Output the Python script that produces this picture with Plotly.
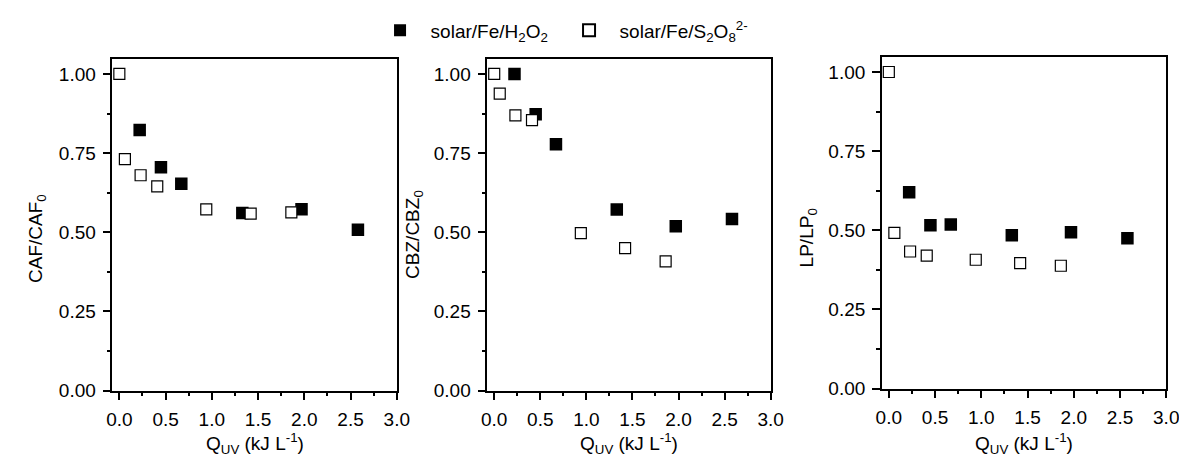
import plotly.graph_objects as go

W, H = 1187, 456

# ---- data ----
x_h2o2 = [0.22, 0.45, 0.67, 1.33, 1.97, 2.58]
x_s2o8 = [0.0, 0.06, 0.23, 0.41, 0.94, 1.42, 1.86]

caf_h2o2 = [0.823, 0.705, 0.653, 0.561, 0.573, 0.508]
caf_s2o8 = [1.00, 0.731, 0.680, 0.645, 0.572, 0.559, 0.563]

cbz_h2o2 = [1.00, 0.873, 0.778, 0.572, 0.519, 0.542]
cbz_s2o8 = [1.00, 0.938, 0.869, 0.854, 0.497, 0.450, 0.408]

lp_h2o2 = [0.620, 0.516, 0.518, 0.484, 0.494, 0.475]
lp_s2o8 = [1.00, 0.492, 0.433, 0.420, 0.407, 0.396, 0.388]

y_titles = ["CAF/CAF<sub>0</sub>", "CBZ/CBZ<sub>0</sub>", "LP/LP<sub>0</sub>"]
x_title = "Q<sub>UV</sub> (kJ L<sup>-1</sup>)"
name_h2o2 = "\u00a0\u00a0solar/Fe/H<sub>2</sub>O<sub>2</sub>"
name_s2o8 = "\u00a0\u00a0solar/Fe/S<sub>2</sub>O<sub>8</sub><sup>2-</sup>"

x_ticks = [0.0, 0.5, 1.0, 1.5, 2.0, 2.5, 3.0]
y_ticks = [0.00, 0.25, 0.50, 0.75, 1.00]

panels = [(caf_h2o2, caf_s2o8), (cbz_h2o2, cbz_s2o8), (lp_h2o2, lp_s2o8)]

# pixel layout of each panel: left, right, top, bottom
boxes = [(100, 389, 52, 392), (481, 769, 52, 392), (882, 1171, 50, 390)]
ytitle_pos = [(24, 236), (407, 232), (807, 236)]

FONT = "Arial, Liberation Sans, sans-serif"
fig = go.Figure()

for i, (yh, ys) in enumerate(panels):
    n = "" if i == 0 else str(i + 1)
    fig.add_trace(go.Scatter(
        x=x_h2o2, y=yh, mode="markers", name=name_h2o2,
        marker=dict(symbol="square", size=12.5, color="black", line=dict(width=0)),
        xaxis="x" + n, yaxis="y" + n, showlegend=(i == 0), legendgroup="a"))
    fig.add_trace(go.Scatter(
        x=x_s2o8, y=ys, mode="markers", name=name_s2o8,
        marker=dict(symbol="square", size=11, color="white", line=dict(width=1.2, color="black")),
        xaxis="x" + n, yaxis="y" + n, showlegend=(i == 0), legendgroup="b"))

axis_common = dict(
    showline=True, linecolor="black", linewidth=1.5, mirror=True,
    showgrid=False, zeroline=False, ticks="outside", ticklen=8, tickwidth=1.5,
    tickcolor="black", ticklabelstandoff=3,
    tickfont=dict(family=FONT, size=19, color="black"),
)

annotations = []
for i, (l, r, t, b) in enumerate(boxes):
    n = "" if i == 0 else str(i + 1)
    fig.layout["xaxis" + n] = dict(
        axis_common, domain=[l / W, r / W], range=[-0.075, 3.0],
        tickvals=x_ticks, ticktext=["%.1f" % v for v in x_ticks],
        minor=dict(ticks="outside", ticklen=4, tickwidth=1.5, dtick=0.25, tick0=0, tickcolor="black"),
        anchor="y" + n)
    fig.layout["yaxis" + n] = dict(
        axis_common, domain=[(H - b) / H, (H - t) / H], range=[0, 1.048],
        tickvals=y_ticks, ticktext=["%.2f" % v for v in y_ticks],
        minor=dict(ticks="outside", ticklen=4, tickwidth=1.5, dtick=0.125, tick0=0, tickcolor="black"),
        anchor="x" + n)
    annotations.append(dict(
        text=x_title, xref="paper", yref="paper", x=(l + r) / 2 / W, y=(H - 446) / H,
        xanchor="center", yanchor="middle", showarrow=False,
        font=dict(family=FONT, size=19, color="black")))
    tx, ty = ytitle_pos[i]
    annotations.append(dict(
        text=y_titles[i], xref="paper", yref="paper", x=tx / W, y=(H - ty) / H,
        xanchor="center", yanchor="middle", showarrow=False, textangle=-90,
        font=dict(family=FONT, size=19, color="black")))

fig.update_layout(
    width=W, height=H, margin=dict(l=0, r=0, t=0, b=0),
    paper_bgcolor="white", plot_bgcolor="white",
    showlegend=True,
    legend=dict(orientation="h", x=372 / W, y=(H - 23) / H, xanchor="left", yanchor="middle",
                font=dict(family=FONT, size=19, color="black"), entrywidth=144,
                bgcolor="rgba(0,0,0,0)", traceorder="normal", itemsizing="constant"),
    annotations=annotations,
)

fig.write_html("out.html")
